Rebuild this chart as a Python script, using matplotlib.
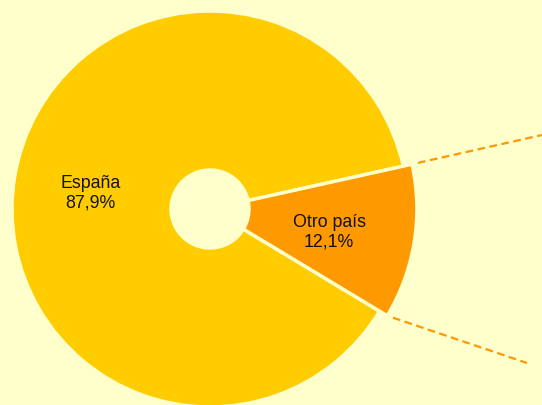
import numpy as np
import matplotlib.pyplot as plt

# data
labels = ['España', 'Otro país']
values = [87.9, 12.1]
colors = ['#FFCC00', '#FF9900']
bg = '#FFFFCC'

plt.rcParams['font.family'] = ['Liberation Sans', 'DejaVu Sans']

fig = plt.figure(figsize=(5.42, 4.05), dpi=100)
fig.patch.set_facecolor(bg)
ax = fig.add_axes([0, 0, 1, 1])
ax.set_facecolor(bg)

cx, cy, r = 210, 196, 198
wedges, _ = ax.pie(values, colors=colors, startangle=12.5, counterclock=True,
                   center=(cx, cy), radius=r, frame=True,
                   wedgeprops=dict(edgecolor=bg, linewidth=2.5))
ax.set_xlim(0, 542)
ax.set_ylim(0, 405)
ax.set_aspect('equal')
ax.axis('off')

# the small slice sticks out a bit
wedges[1].set_radius(r * 1.045)

# hole in the middle
ax.add_patch(plt.Circle((cx, cy), 40, color=bg, zorder=5))

# labels
for w, lab, v in zip(wedges, labels, values):
    ang = np.deg2rad((w.theta1 + w.theta2) / 2)
    tx = cx + 0.61 * r * np.cos(ang)
    ty = cy + 0.61 * r * np.sin(ang) - 4
    ax.text(tx, ty, f"{lab}\n{v:.1f}%".replace('.', ','), ha='center', va='center',
            fontsize=12.8, color='#111111', linespacing=1.2, zorder=6)

# connector lines to the (off-chart) breakdown
o = wedges[1]
ends = [(542, 270), (527, 42)]
for th, end in zip([o.theta2, o.theta1], ends):
    a = np.deg2rad(th)
    px, py = cx + r * 1.045 * np.cos(a), cy + r * 1.045 * np.sin(a)
    d = np.array(end) - np.array([px, py])
    d = d / np.hypot(*d)
    sx, sy = px + 6 * d[0], py + 6 * d[1]
    ax.plot([sx, end[0]], [sy, end[1]], ls=(0, (3.5, 2)), color='#FF9900', lw=1.6)

fig.savefig('out.png', dpi=100, facecolor=bg)
